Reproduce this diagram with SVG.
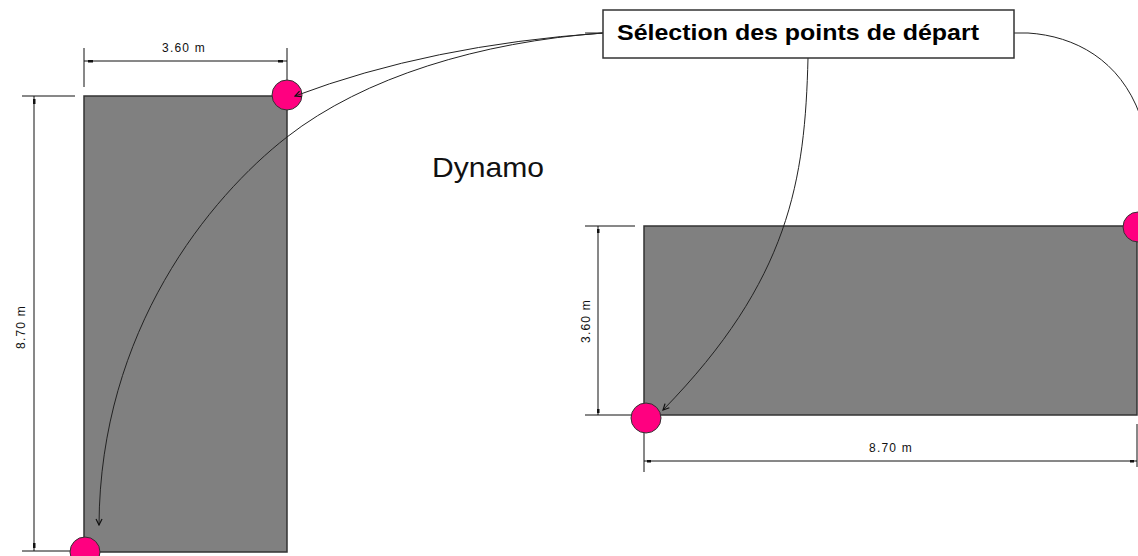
<svg xmlns="http://www.w3.org/2000/svg" width="1138" height="556" viewBox="0 0 1138 556">
<defs>
<style>
.room{fill:#808080;stroke:#333;stroke-width:1.5}
.pt{fill:#ff0080;stroke:#333;stroke-width:1}
.dim{stroke:#111;stroke-width:1;fill:none}
.tick{fill:#111}
.dimtxt{font-family:"Liberation Sans",Arial,sans-serif;font-size:12px;fill:#111;letter-spacing:1.2px}
.conn{fill:none;stroke:#222;stroke-width:1}
.label{fill:#fff;stroke:#333;stroke-width:1.5}
.labeltxt{font-family:"Liberation Sans",Arial,sans-serif;font-size:22px;font-weight:bold;fill:#000}
.title{font-family:"Liberation Sans",Arial,sans-serif;font-size:28px;fill:#111}
</style>
<marker id="arr" viewBox="0 0 8 8" refX="7" refY="4" markerWidth="8" markerHeight="8" orient="auto" markerUnits="userSpaceOnUse">
<path d="M1,1 L7,4 L1,7" fill="none" stroke="#111" stroke-width="1.2"/>
</marker>
</defs>
<rect width="1138" height="556" fill="#fff"/>

<g id="room-left">
<rect class="room" x="84" y="96" width="203" height="456"/>
</g>
<g id="room-right">
<rect class="room" x="644" y="226" width="493" height="189"/>
</g>

<g id="dim-left-top">
<line class="dim" x1="84" y1="48" x2="84" y2="87"/>
<line class="dim" x1="287" y1="48" x2="287" y2="87"/>
<line class="dim" x1="84" y1="61" x2="287" y2="61"/>
<rect class="tick" x="88" y="60" width="5" height="2.5"/>
<rect class="tick" x="278" y="60" width="5" height="2.5"/>
<text class="dimtxt" x="184" y="52" text-anchor="middle">3.60 m</text>
</g>
<g id="dim-left-side">
<line class="dim" x1="22" y1="96" x2="75" y2="96"/>
<line class="dim" x1="22" y1="551" x2="72" y2="551"/>
<line class="dim" x1="34" y1="96" x2="34" y2="551"/>
<rect class="tick" x="33" y="99" width="2.5" height="5"/>
<rect class="tick" x="33" y="543" width="2.5" height="5"/>
<text class="dimtxt" transform="translate(25,327) rotate(-90)" text-anchor="middle">8.70 m</text>
</g>
<g id="dim-right-side">
<line class="dim" x1="585" y1="226" x2="635" y2="226"/>
<line class="dim" x1="585" y1="415" x2="632" y2="415"/>
<line class="dim" x1="598" y1="226" x2="598" y2="415"/>
<rect class="tick" x="597" y="229" width="2.5" height="4"/>
<rect class="tick" x="597" y="409" width="2.5" height="4"/>
<text class="dimtxt" transform="translate(590,321) rotate(-90)" text-anchor="middle">3.60 m</text>
</g>
<g id="dim-right-bottom">
<line class="dim" x1="644" y1="420" x2="644" y2="472"/>
<line class="dim" x1="1137" y1="424" x2="1137" y2="467"/>
<line class="dim" x1="644" y1="461" x2="1137" y2="461"/>
<rect class="tick" x="647" y="460" width="4" height="2.5"/>
<rect class="tick" x="1130" y="460" width="4" height="2.5"/>
<text class="dimtxt" x="891" y="452" text-anchor="middle">8.70 m</text>
</g>

<g id="point-1"><circle class="pt" cx="287" cy="95" r="15"/></g>
<g id="point-2"><circle class="pt" cx="85" cy="552" r="15"/></g>
<g id="point-3"><circle class="pt" cx="646" cy="418" r="15"/></g>
<g id="point-4"><circle class="pt" cx="1138" cy="227" r="15"/></g>

<g id="connectors">
<line class="conn" x1="585" y1="33" x2="603" y2="33"/>
<path class="conn" d="M603,33 Q430,45 295,96" marker-end="url(#arr)"/>
<path class="conn" d="M603,33 C480,42 364,77 287,137 C210,197 100,330 99,525" marker-end="url(#arr)"/>
<path class="conn" d="M808,58 C805,180 790,280 663,410" marker-end="url(#arr)"/>
<path class="conn" d="M1014,33 L1028,33 C1075,36 1120,60 1140,115"/>
</g>

<g id="label">
<rect class="label" x="603" y="10" width="411" height="48"/>
<text class="labeltxt" x="617" y="40" textLength="362" lengthAdjust="spacingAndGlyphs">Sélection des points de départ</text>
</g>

<g id="title">
<text class="title" x="432" y="177" textLength="112" lengthAdjust="spacingAndGlyphs">Dynamo</text>
</g>
</svg>
